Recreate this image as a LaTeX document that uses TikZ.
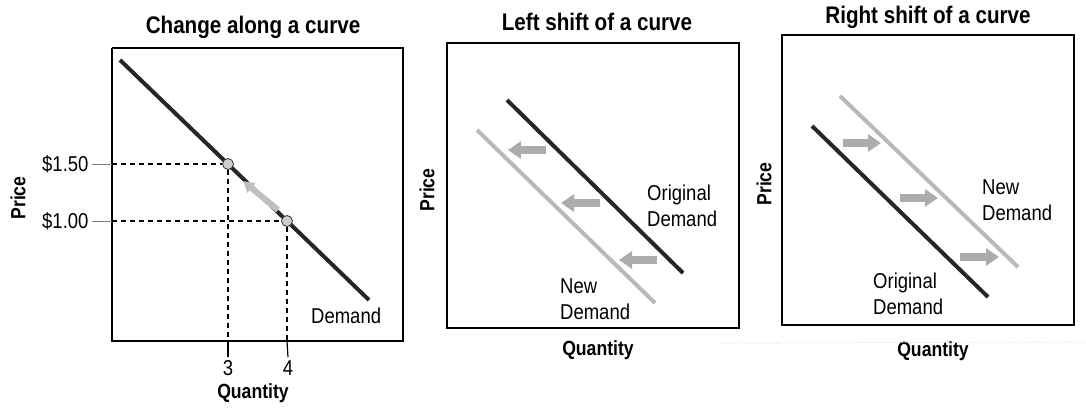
\documentclass[tikz,border=0pt]{standalone}
\usepackage{fontspec}
\setmainfont[FakeStretch=0.86]{Liberation Sans}
\usetikzlibrary{arrows.meta}
\begin{document}
\begin{tikzpicture}[x=1pt,y=-1pt,
  font=\fontsize{21.5}{26}\selectfont,
  ttl/.style={font=\fontsize{24}{26}\selectfont\bfseries},
  axlab/.style={font=\fontsize{20.5}{22}\selectfont\bfseries},
  lbl/.style={anchor=west,align=left,inner sep=0pt},
  frame/.style={draw,line width=1.3pt},
  olddem/.style={draw=black!85,line width=4pt},
  newdem/.style={draw=gray!55,line width=4pt},
  guide/.style={line width=1.3pt,dash pattern=on 5pt off 4pt},
  dot/.style={circle,draw=black!80,fill=gray!40,line width=0.8pt,
    minimum size=11pt,inner sep=0pt},
  shiftarr/.style={draw=gray!65,line width=8pt,
    -{Triangle[length=13pt,width=17pt]}}]
\useasboundingbox (0,0) rectangle (1086,407);
% change along a curve
\node[ttl] (t1) at (253,27) {Change along a curve};
\draw[frame] (112,48) coordinate (b1) |- (403,341) coordinate (e1) |- (112,48);
\coordinate (d1s) at (120,60);
\coordinate (d1e) at (369,300);
\draw[olddem] (d1s) -- (d1e);
\node[axlab,rotate=90] (p1) at (18,198) {Price};
\node[anchor=east] (y150) at (92,164) {\$1.50};
\node[anchor=east] (y100) at (92,221) {\$1.00};
\coordinate (m1t) at (278,210);
\coordinate (m1h) at (243,181);
\draw[shiftarr,draw=gray!50,line width=6pt,
  -{Triangle[length=11pt,width=12pt]}] (m1t) -- (m1h);
\node[dot] (hi) at (228,164) {};
\node[dot] (lo) at (287,221) {};
\draw[gray,line width=0.8pt] (y150.east) -- (112,164);
\draw[gray,line width=0.8pt] (y100.east) -- (112,221);
\draw[guide] (112,164) -- (hi.west);
\draw[guide] (112,221) -- (lo.west);
\draw[guide] (hi.south) -- (228,341);
\draw[guide] (lo.south) -- (287,341);
\node[anchor=north] (x3) at (228,357) {3};
\node[anchor=north] (x4) at (288,357) {4};
\draw[line width=1.2pt] (228,341) -- (x3.north);
\draw[line width=1.2pt] (287,341) -- (x4.north);
\node[lbl] (dm1) at (311,316) {Demand};
\node[axlab] (q1) at (253,393) {Quantity};
% left shift
\node[ttl] (t2) at (597,22) {Left shift of a curve};
\draw[frame] (447,43) rectangle (739,328);
\node[axlab,rotate=90] (p2) at (427,190) {Price};
\coordinate (o2s) at (507,100);
\coordinate (o2e) at (683,273);
\coordinate (n2s) at (477,130);
\coordinate (n2e) at (655,303);
\draw[olddem] (o2s) -- (o2e);
\draw[newdem] (n2s) -- (n2e);
\coordinate (l1t) at (546,150); \coordinate (l1h) at (508,150);
\coordinate (l2t) at (600,203); \coordinate (l2h) at (561,203);
\coordinate (l3t) at (657,260); \coordinate (l3h) at (619,260);
\draw[shiftarr] (l1t) -- (l1h);
\draw[shiftarr] (l2t) -- (l2h);
\draw[shiftarr] (l3t) -- (l3h);
\node[lbl] (od2) at (647,206) {Original\\Demand};
\node[lbl] (nd2) at (560,299) {New\\Demand};
\node[axlab] (q2) at (598,350) {Quantity};
% right shift
\node[ttl] (t3) at (928,17) {Right shift of a curve};
\draw[frame] (782,35) rectangle (1074,325);
\node[axlab,rotate=90] (p3) at (764,184) {Price};
\coordinate (o3s) at (812,126);
\coordinate (o3e) at (988,297);
\coordinate (n3s) at (840,96);
\coordinate (n3e) at (1018,267);
\draw[olddem] (o3s) -- (o3e);
\draw[newdem] (n3s) -- (n3e);
\coordinate (r1t) at (843,143); \coordinate (r1h) at (881,143);
\coordinate (r2t) at (900,198); \coordinate (r2h) at (938,198);
\coordinate (r3t) at (960,257); \coordinate (r3h) at (999,257);
\draw[shiftarr] (r1t) -- (r1h);
\draw[shiftarr] (r2t) -- (r2h);
\draw[shiftarr] (r3t) -- (r3h);
\node[lbl] (nd3) at (982,200) {New\\Demand};
\node[lbl] (od3) at (873,294) {Original\\Demand};
\node[axlab] (q3) at (933,351) {Quantity};
\draw[gray!35,line width=0.8pt,dotted] (720,343) -- (1086,342);
\end{tikzpicture}
\end{document}
